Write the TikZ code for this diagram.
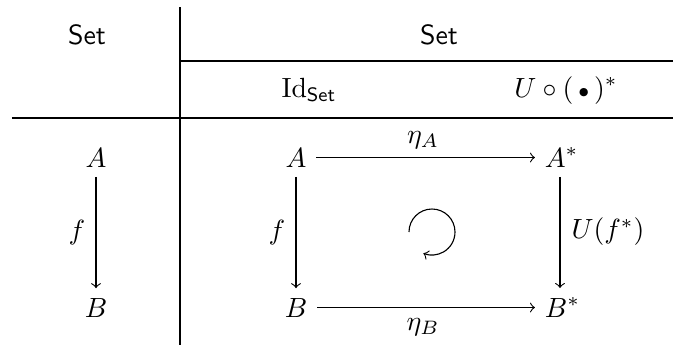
\documentclass[tikz,border=0pt]{standalone}
\usepackage{amsmath}
\begin{document}
\begin{tikzpicture}[x=0.36pt,y=-0.36pt,
  obj/.style={anchor=base},
  lbl/.style={inner sep=0pt},
  rule/.style={line width=0.45pt},
  arr/.style={->,line width=0.4pt}]
\useasboundingbox (0,0) rectangle (673,345);
% table rules
\coordinate (vtop) at (180,7);
\coordinate (vbot) at (180,345);
\coordinate (hl) at (12,118);
\coordinate (hr) at (673,118);
\coordinate (tl) at (180,61);
\coordinate (tr) at (673,61);
\draw[rule] (vtop) -- (vbot);
\draw[rule] (hl) -- (hr);
\draw[rule] (tl) -- (tr);
% headers
\node[obj] (h1) at (87,44) {\textsf{Set}};
\node[obj] (h2) at (439,44) {\textsf{Set}};
\node[obj] (h3) at (309,97) {$\mathrm{Id}_{\mathsf{Set}}$};
\node[obj] (h4) at (566,97) {$U\circ(\,{\scriptstyle\bullet}\,)^{*}$};
% left column
\node[obj] (lA) at (96,167) {$A$};
\node[obj] (lB) at (96,317) {$B$};
\draw[arr] (lA.south) -- (lB.north);
\node[lbl] (lf) at (77,233) {$f$};
% right square
\node[obj] (A) at (296,167) {$A$};
\node[obj] (B) at (296,317) {$B$};
\node[obj,anchor=base west] (As) at (535,167) {$A^{*}$};
\node[obj,anchor=base west] (Bs) at (535,317) {$B^{*}$};
\coordinate (rx) at (560,0);
\draw[arr] (A.east) -- (A.east -| As.west);
\draw[arr] (B.east) -- (B.east -| Bs.west);
\draw[arr] (A.south) -- (B.north);
\draw[arr] (As.south -| rx) -- (Bs.north -| rx);
\node[lbl] (f) at (277,233) {$f$};
\node[lbl] (Uf) at (608,232) {$U(f^{*})$};
\node[lbl] (eA) at (423,140) {$\eta_A$};
\node[lbl] (eB) at (423,327) {$\eta_B$};
% rotation sign
\coordinate (c) at (432,232);
\draw[arr] (c) ++(180:8.28pt) arc[start angle=180,end angle=-112,radius=8.28pt];
\end{tikzpicture}
\end{document}
